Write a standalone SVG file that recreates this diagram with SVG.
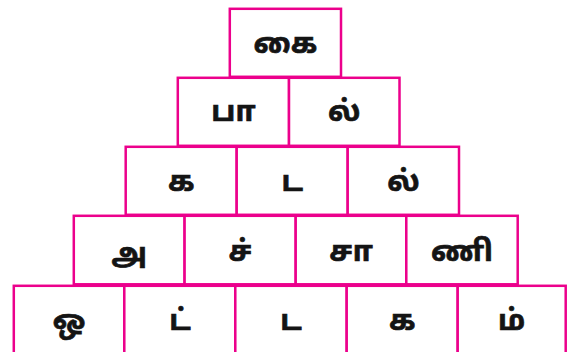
<svg xmlns="http://www.w3.org/2000/svg" width="573" height="352" viewBox="0 0 573 352">
<style>
.b{fill:#fff;stroke:#EC008C;stroke-width:2.5}
.t{font-family:"Noto Sans Tamil","Noto Sans","Lohit Tamil",sans-serif;font-weight:bold;font-size:29px;fill:#141414;stroke:#141414;stroke-width:0.7;text-anchor:middle}
</style>
<rect width="573" height="352" fill="#fff"/>
<g id="row5">
<g id="n-o"><rect class="b" x="13.8" y="285.8" width="110.5" height="80"/><text class="t" x="69" y="330">ஒ</text></g>
<g id="n-tt"><rect class="b" x="124.3" y="285.8" width="111" height="80"/><text class="t" x="180" y="330">ட்</text></g>
<g id="n-ta5"><rect class="b" x="235.3" y="285.8" width="111.4" height="80"/><text class="t" x="291" y="330">ட</text></g>
<g id="n-ka5"><rect class="b" x="346.7" y="285.8" width="111" height="80"/><text class="t" x="402.2" y="330">க</text></g>
<g id="n-m"><rect class="b" x="457.7" y="285.8" width="108" height="80"/><text class="t" x="511.7" y="330">ம்</text></g>
</g>
<g id="row4">
<g id="n-a"><rect class="b" x="73.8" y="215.8" width="110.8" height="68.5"/><text class="t" x="129.2" y="263">அ</text></g>
<g id="n-c"><rect class="b" x="184.6" y="215.8" width="111.1" height="68.5"/><text class="t" x="240.2" y="261">ச்</text></g>
<g id="n-caa"><rect class="b" x="295.7" y="215.8" width="110.6" height="68.5"/><text class="t" x="351" y="261">சா</text></g>
<g id="n-nni"><rect class="b" x="406.3" y="215.8" width="111.4" height="68.5"/><text class="t" x="462" y="261">ணி</text></g>
</g>
<g id="row3">
<g id="n-ka3"><rect class="b" x="125.7" y="146.8" width="111" height="68"/><text class="t" x="181.2" y="191">க</text></g>
<g id="n-ta3"><rect class="b" x="236.7" y="146.8" width="111" height="68"/><text class="t" x="292.2" y="191">ட</text></g>
<g id="n-l3"><rect class="b" x="347.7" y="146.8" width="111.3" height="68"/><text class="t" x="403.4" y="191">ல்</text></g>
</g>
<g id="row2">
<g id="n-paa"><rect class="b" x="177.8" y="77.8" width="111.2" height="68"/><text class="t" x="233.4" y="121">பா</text></g>
<g id="n-l2"><rect class="b" x="289" y="77.8" width="110.5" height="68"/><text class="t" x="344.2" y="121">ல்</text></g>
</g>
<g id="row1">
<g id="n-kai"><rect class="b" x="229.8" y="8.8" width="111.2" height="68"/><text class="t" x="285.4" y="53">கை</text></g>
</g>
<g id="connectors"></g>
</svg>
